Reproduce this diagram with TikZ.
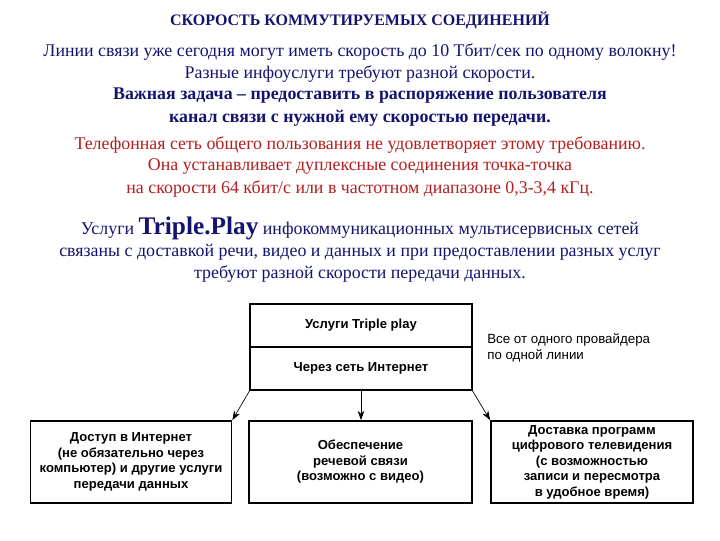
\documentclass[tikz,border=0pt]{standalone}
\usepackage{fontspec}
\setmainfont{Liberation Serif}
\newfontfamily\boxfont{Liberation Sans}
\usetikzlibrary{arrows.meta}
\definecolor{dblue}{RGB}{20,20,110}
\definecolor{dred}{RGB}{180,30,30}
\begin{document}
\begin{tikzpicture}[x=0.75pt,y=-0.75pt,
  txt/.style={font=\fontsize{13.4}{15}\selectfont,text=dblue,inner sep=0},
  rtxt/.style={font=\fontsize{13.4}{15}\selectfont,text=dred,inner sep=0},
  lbl/.style={font=\boxfont\bfseries\fontsize{9.8}{11.6}\selectfont,align=center,inner sep=0},
  arr/.style={-{Stealth[length=7pt,width=5pt]},line width=0.5pt}]
\useasboundingbox (0,0) rectangle (720,540);
\node[txt,font=\bfseries\fontsize{12}{14}\selectfont] (t0) at (360,20) {СКОРОСТЬ КОММУТИРУЕМЫХ СОЕДИНЕНИЙ};
\node[txt] (t1) at (360,52) {Линии связи уже сегодня могут иметь скорость до 10 Тбит/сек по одному волокну!};
\node[txt] (t2) at (360,74) {Разные инфоуслуги требуют разной скорости.};
\node[txt,font=\bfseries\fontsize{13.4}{15}\selectfont] (t3) at (360,96) {Важная задача – предоставить в распоряжение пользователя};
\node[txt,font=\bfseries\fontsize{13.4}{15}\selectfont] (t4) at (360,118) {канал связи с нужной ему скоростью передачи.};
\node[rtxt] (r1) at (360,145) {Телефонная сеть общего пользования не удовлетворяет этому требованию.};
\node[rtxt] (r2) at (360,167) {Она устанавливает дуплексные соединения точка-точка};
\node[rtxt] (r3) at (360,189) {на скорости 64 кбит/с или в частотном диапазоне 0,3-3,4 кГц.};
\node[txt] (s1) at (360,228) {Услуги \textbf{\fontsize{19}{20}\selectfont Triple.Play} инфокоммуникационных мультисервисных сетей};
\node[txt] (s2) at (360,252) {связаны с доставкой речи, видео и данных и при предоставлении разных услуг};
\node[txt] (s3) at (360,274) {требуют разной скорости передачи данных.};
\draw[line width=1.3pt] (250,304) rectangle (472,390);
\draw[line width=1pt] (250,347) -- (472,347);
\node[lbl] (a) at (361,325) {Услуги Triple play};
\node[lbl] (b) at (361,368) {Через сеть Интернет};
\coordinate (bl) at (250,390); \coordinate (bm) at (361,390); \coordinate (br) at (472,390);
\node[font=\boxfont\fontsize{10}{12.5}\selectfont,align=left,anchor=west,inner sep=0] (side) at (487,348) {Все от одного провайдера\\по одной линии};
\node[draw,line width=1.3pt,minimum width=201pt*0.75,minimum height=82pt*0.75,lbl] (l) at (131,462) {Доступ в Интернет\\(не обязательно через\\компьютер) и другие услуги\\передачи данных};
\node[draw,line width=1.3pt,minimum width=223pt*0.75,minimum height=82pt*0.75,lbl] (m) at (360.5,462) {Обеспечение\\речевой связи\\(возможно с видео)};
\node[draw,line width=1.3pt,minimum width=202pt*0.75,minimum height=82pt*0.75,lbl] (r) at (592,462) {Доставка программ\\цифрового телевидения\\(с возможностью\\записи и пересмотра\\в удобное время)};
\draw[arr] (bl) -- (l.north east);
\draw[arr] (bm) -- (m.north -| bm);
\draw[arr] (br) -- (r.north west);
\end{tikzpicture}
\end{document}
